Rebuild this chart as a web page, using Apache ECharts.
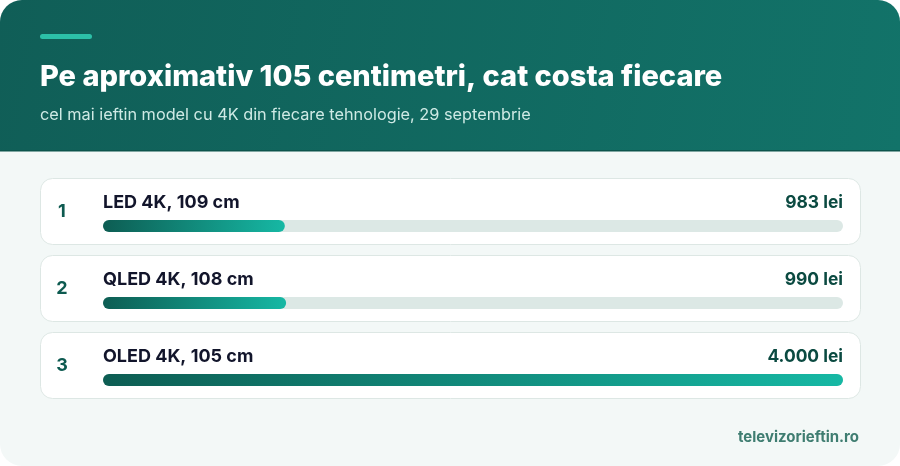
<!DOCTYPE html>
<html><head><meta charset="utf-8">
<script src="https://cdn.jsdelivr.net/npm/echarts@6/dist/echarts.min.js"></script>
<style>
html,body{margin:0;padding:0;background:#ffffff;}
#c{width:900px;height:466px;border-radius:22px;overflow:hidden;background:#f3f8f7;}
</style></head>
<body><div id="c"></div>
<script>
const titleText = 'Pe aproximativ 105 centimetri, cat costa fiecare';
const subtitleText = 'cel mai ieftin model cu 4K din fiecare tehnologie, 29 septembrie';
const sourceText = 'televizorieftin.ro';
const ranks = ['1', '2', '3'];
const models = ['LED 4K, 109 cm', 'QLED 4K, 108 cm', 'OLED 4K, 105 cm'];
const prices = [983, 990, 4000];
const priceLabels = ['983 lei', '990 lei', '4.000 lei'];
const xMax = 4000;

const chart = echarts.init(document.getElementById('c'), null, {renderer: 'canvas'});
const FONT = 'Inter, "Noto Sans", sans-serif';

const cards = [178, 255, 332].map(y => ({
  type: 'rect', z: 0, silent: true,
  shape: {x: 40.5, y: y + 0.5, width: 820, height: 66, r: 12},
  style: {fill: '#ffffff', stroke: '#dde7e4', lineWidth: 1}
}));

chart.setOption({
  animation: false,
  textStyle: {fontFamily: FONT},
  title: [{
    text: titleText,
    subtext: subtitleText,
    left: 40, top: 62.5, padding: 0,
    itemGap: 15.5,
    textStyle: {color: '#ffffff', fontSize: 29, fontWeight: 800, fontFamily: FONT},
    subtextStyle: {color: '#cfeae5', fontSize: 16.3, fontWeight: 400, fontFamily: FONT}
  }, {
    text: sourceText,
    right: 41, top: 430, padding: 0,
    textStyle: {color: '#3f7d71', fontSize: 15, fontWeight: 700, fontFamily: FONT}
  }],
  graphic: [
    {type: 'rect', z: 0, silent: true, shape: {x: 0, y: 0, width: 900, height: 151},
     style: {fill: new echarts.graphic.LinearGradient(0, 0, 1, 1, [
       {offset: 0, color: '#105e57'}, {offset: 1, color: '#127369'}])}},
    {type: 'rect', z: 0, silent: true, shape: {x: 0, y: 150, width: 900, height: 1.5},
     style: {fill: '#0c544c'}},
    {type: 'rect', z: 0, silent: true, shape: {x: 40, y: 34, width: 52, height: 5, r: 2.5},
     style: {fill: '#2cc0a8'}}
  ].concat(cards),
  grid: {left: 103, right: 57, top: 187.5, bottom: 47.5},
  xAxis: {type: 'value', min: 0, max: xMax, show: false},
  yAxis: {
    type: 'category', data: ranks, inverse: true,
    axisLine: {show: false}, axisTick: {show: false}, splitLine: {show: false},
    axisLabel: {
      margin: 41, align: 'center', color: '#0d5a50', fontSize: 18, fontWeight: 700,
      fontFamily: FONT, lineHeight: 29, formatter: v => v + '\n '
    }
  },
  series: [{
    type: 'bar', data: prices, barWidth: 12, z: 3,
    showBackground: true,
    backgroundStyle: {color: '#dce8e5', borderRadius: 6},
    itemStyle: {
      borderRadius: 6,
      color: new echarts.graphic.LinearGradient(0, 0, 1, 0, [
        {offset: 0, color: '#0d5d53'}, {offset: 1, color: '#16b8a4'}])
    },
    label: {
      show: true, position: [0, -17], align: 'left', verticalAlign: 'middle',
      formatter: p => models[p.dataIndex],
      color: '#12152b', fontSize: 18, fontWeight: 700, fontFamily: FONT
    }
  }, {
    type: 'bar', data: prices.map(() => xMax), barWidth: 12, barGap: '-100%', z: 2,
    itemStyle: {color: 'rgba(0,0,0,0)'},
    label: {
      show: true, position: ['100%', -17], align: 'right', verticalAlign: 'middle',
      formatter: p => priceLabels[p.dataIndex],
      color: '#0b4a41', fontSize: 17.4, fontWeight: 700, fontFamily: FONT
    }
  }]
});
</script></body></html>
